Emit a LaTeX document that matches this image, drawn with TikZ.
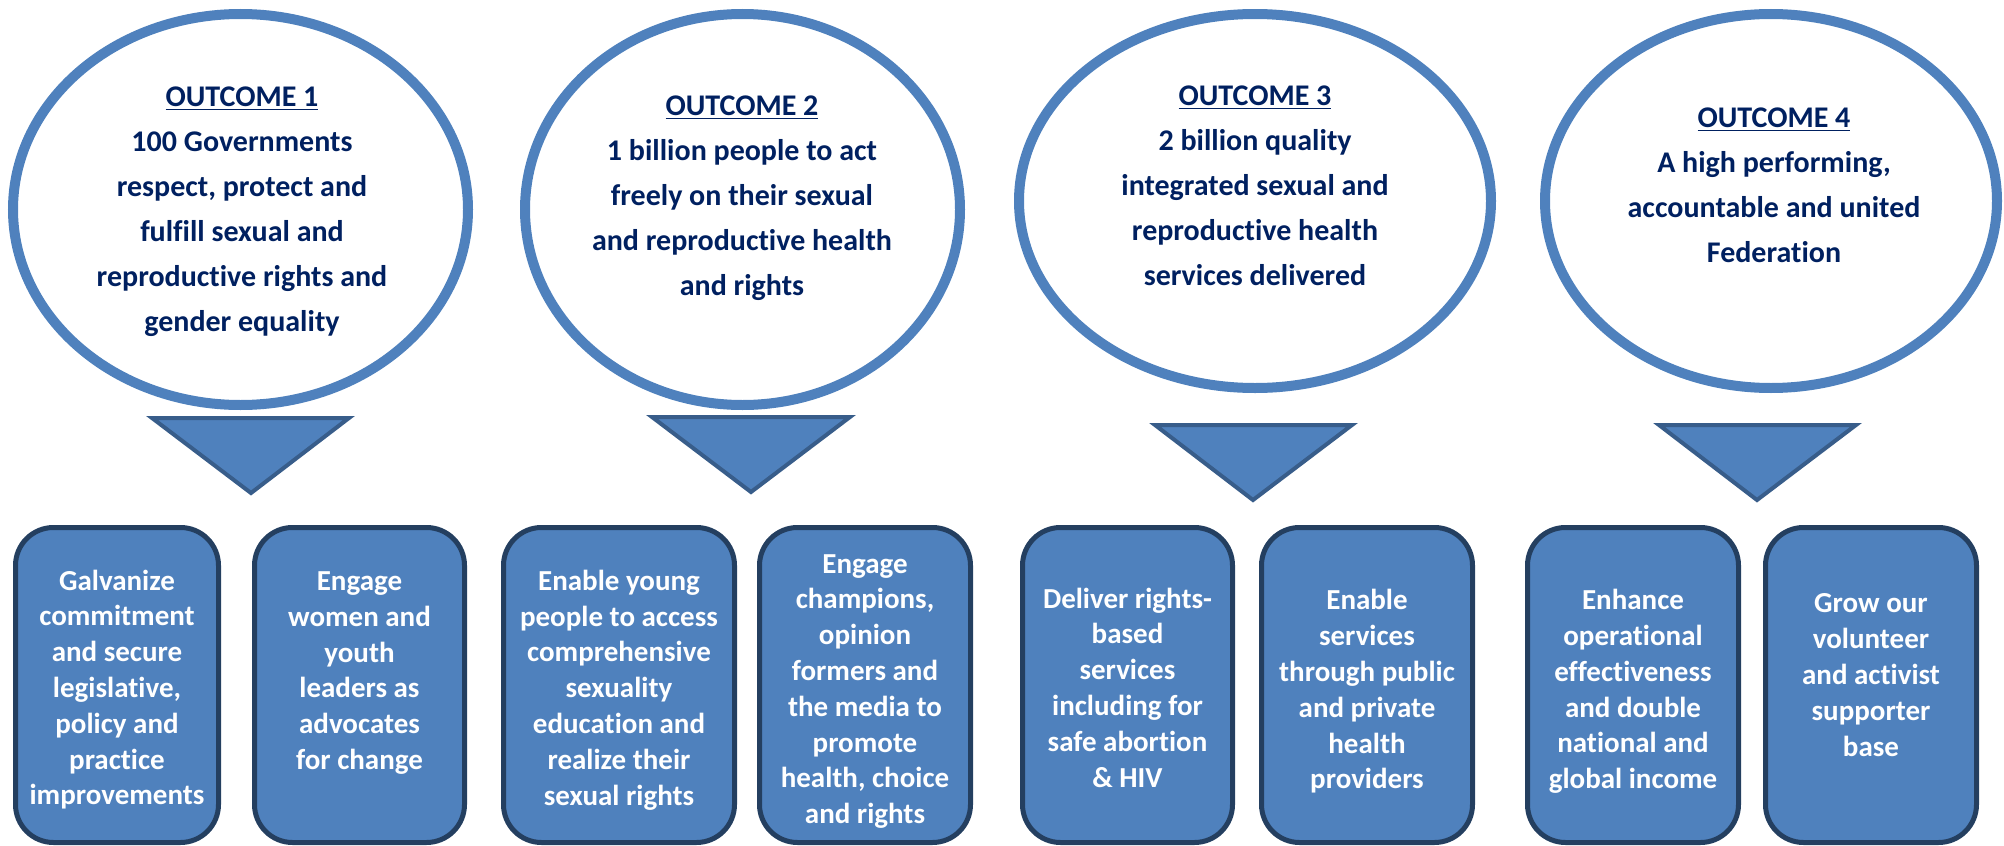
\documentclass[tikz,border=0pt]{standalone}
\usepackage{fontspec}
\setmainfont{Carlito}[Ligatures=CommonOff]
\usetikzlibrary{shapes}

\definecolor{ringblue}{HTML}{4F81BD}
\definecolor{tipblue}{HTML}{385D8A}
\definecolor{boxedge}{HTML}{243F60}
\definecolor{navy}{HTML}{002060}

\begin{document}
\begin{tikzpicture}[x=0.5pt,y=-0.5pt,
  outcome/.style={shape=ellipse,draw=ringblue,line width=5pt,inner sep=0pt},
  outcometext/.style={text=navy,align=center,inner sep=0pt,
    font=\fontsize{15}{22.5}\selectfont\bfseries},
  pointer/.style={fill=ringblue,draw=tipblue,line width=2pt,line join=miter},
  goal/.style={shape=rectangle,rounded corners=19pt,fill=ringblue,draw=boxedge,
    line width=2.5pt,inner sep=0pt,minimum height=157.5pt},
  goaltext/.style={text=white,align=center,inner sep=0pt,
    font=\fontsize{14.5}{17.9}\selectfont\bfseries}]
\useasboundingbox (0,0) rectangle (2004,846);

% the four outcomes
\node[outcome,minimum width=227.5pt,minimum height=195.5pt] (o1) at (240.5,209.5) {};
\node[outcome,minimum width=217.5pt,minimum height=195.5pt] (o2) at (742.5,209.5) {};
\node[outcome,minimum width=236pt,minimum height=187pt] (o3) at (1255,201) {};
\node[outcome,minimum width=226pt,minimum height=187pt] (o4) at (1771,201) {};

\node[outcometext] (t1) at (242,211.5)
  {\underline{OUTCOME 1}\\100 Governments\\respect, protect and\\fulfill sexual and\\reproductive rights and\\gender equality};
\node[outcometext] (t2) at (742,198)
  {\underline{OUTCOME 2}\\1 billion people to act\\freely on their sexual\\and reproductive health\\and rights};
\node[outcometext] (t3) at (1255,185.5)
  {\underline{OUTCOME 3}\\2 billion quality\\integrated sexual and\\reproductive health\\services delivered};
\node[outcometext] (t4) at (1774,185.5)
  {\underline{OUTCOME 4}\\A high performing,\\accountable and united\\Federation};

% down pointers
\draw[pointer] (152,418) -- (349,418) -- (251,493) -- cycle;
\draw[pointer] (652,417) -- (850,417) -- (751,492) -- cycle;
\draw[pointer] (1155,425) -- (1352,425) -- (1253,500) -- cycle;
\draw[pointer] (1659,425) -- (1856,425) -- (1757,500) -- cycle;

% strategic goals
\node[goal,minimum width=101.5pt] (g1) at (117,685) {};
\node[goal,minimum width=105pt] (g2) at (359.5,685) {};
\node[goal,minimum width=115.5pt] (g3) at (619,685) {};
\node[goal,minimum width=105.5pt] (g4) at (865,685) {};
\node[goal,minimum width=105pt] (g5) at (1127.5,685) {};
\node[goal,minimum width=105.5pt] (g6) at (1367,685) {};
\node[goal,minimum width=105.5pt] (g7) at (1633,685) {};
\node[goal,minimum width=105.5pt] (g8) at (1871,685) {};

\node[goaltext] (s1) at (117,689.5)
  {Galvanize\\commitment\\and secure\\legislative,\\policy and\\practice\\improvements};
\node[goaltext] (s2) at (359.5,673)
  {Engage\\women and\\youth\\leaders as\\advocates\\for change};
\node[goaltext] (s3) at (619,690)
  {Enable young\\people to access\\comprehensive\\sexuality\\education and\\realize their\\sexual rights};
\node[goaltext] (s4) at (865,691.5)
  {Engage\\champions,\\opinion\\formers and\\the media to\\promote\\health, choice\\and rights};
\node[goaltext] (s5) at (1127.5,687.5)
  {Deliver rights-\\based\\services\\including for\\safe abortion\\\& HIV};
\node[goaltext] (s6) at (1367,691.5)
  {Enable\\services\\through public\\and private\\health\\providers};
\node[goaltext] (s7) at (1633,691.5)
  {Enhance\\operational\\effectiveness\\and double\\national and\\global income};
\node[goaltext] (s8) at (1871,675)
  {Grow our\\volunteer\\and activist\\supporter\\base};
\end{tikzpicture}
\end{document}
